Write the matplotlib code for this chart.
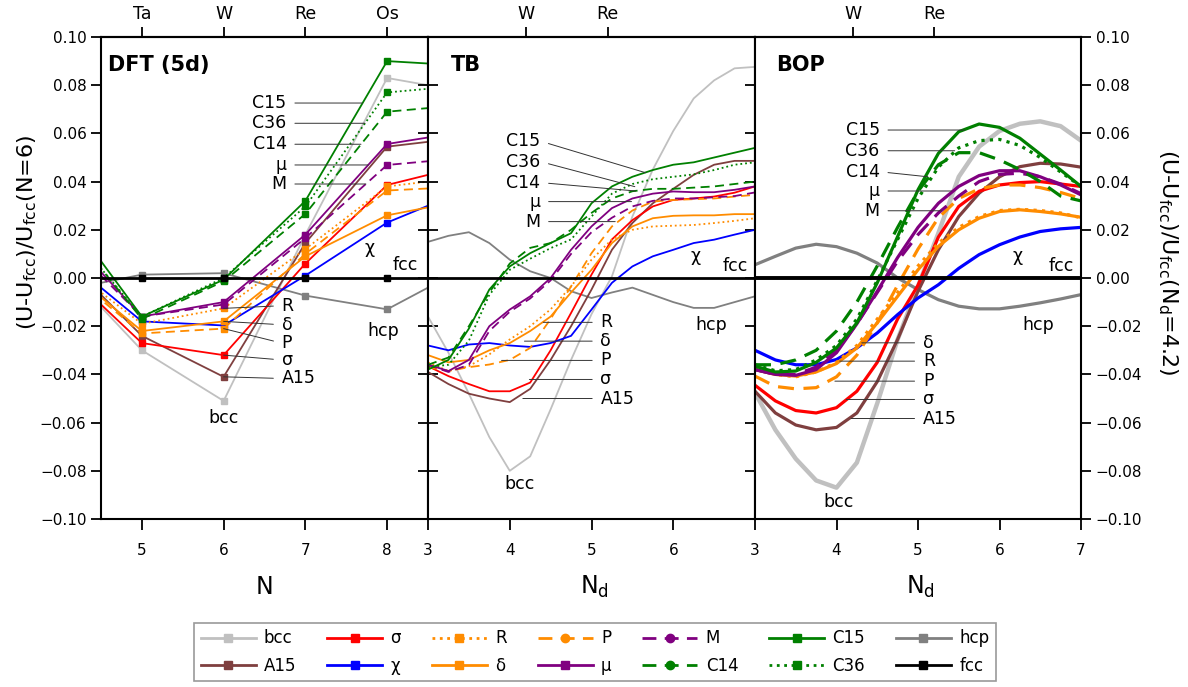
import numpy as np
import matplotlib.pyplot as plt
from matplotlib.lines import Line2D

# ---- DFT (5d): N = 4 .. 9, the end points lie just outside the plotted range
N_dft = [4, 5, 6, 7, 8, 9]
dft_bcc = [0.006, -0.030, -0.051, 0.018, 0.083, 0.077]
dft_A15 = [0.010, -0.024, -0.041, 0.0145, 0.0545, 0.0585]
dft_sigma = [0.005, -0.027, -0.032, 0.006, 0.0386, 0.047]
dft_chi = [0.010, -0.018, -0.0197, 0.001, 0.023, 0.037]
dft_R = [0.007, -0.019, -0.0126, 0.012, 0.038, 0.042]
dft_delta = [0.006, -0.022, -0.018, 0.009, 0.026, 0.0326]
dft_P = [0.005, -0.023, -0.021, 0.010, 0.0363, 0.038]
dft_mu = [0.021, -0.016, -0.010, 0.018, 0.0556, 0.061]
dft_M = [0.018, -0.016, -0.011, 0.0166, 0.0469, 0.050]
dft_C14 = [0.025, -0.017, -0.0014, 0.0266, 0.069, 0.072]
dft_C15 = [0.030, -0.016, -0.0007, 0.032, 0.090, 0.088]
dft_C36 = [0.024, -0.016, 0.0, 0.0297, 0.077, 0.080]
dft_hcp = [-0.0054, 0.0014, 0.002, -0.0073, -0.013, 0.005]
dft_fcc = [0, 0, 0, 0, 0, 0]

Nd = [3.0, 3.25, 3.5, 3.75, 4.0, 4.25, 4.5, 4.75, 5.0,
      5.25, 5.5, 5.75, 6.0, 6.25, 6.5, 6.75, 7.0]

tb_bcc = [-0.016, -0.031, -0.048, -0.066, -0.080, -0.074, -0.0545, -0.034, -0.015,
          0.0007, 0.0255, 0.045, 0.061, 0.0745, 0.082, 0.087, 0.0876]
tb_A15 = [-0.039, -0.044, -0.048, -0.050, -0.0515, -0.046, -0.034, -0.020, -0.0048,
          0.0117, 0.0228, 0.031, 0.037, 0.0428, 0.047, 0.0486, 0.0486]
tb_sigma = [-0.0366, -0.0407, -0.044, -0.047, -0.047, -0.0434, -0.030, -0.0145, 0.0014,
            0.016, 0.024, 0.0297, 0.0324, 0.033, 0.0338, 0.0354, 0.038]
tb_chi = [-0.028, -0.030, -0.0276, -0.027, -0.028, -0.0286, -0.027, -0.024, -0.0131,
          -0.002, 0.0048, 0.009, 0.0117, 0.0145, 0.0159, 0.018, 0.020]
tb_R = [-0.035, -0.0386, -0.0366, -0.0317, -0.0255, -0.020, -0.013, -0.0035, 0.0076,
        0.016, 0.020, 0.0214, 0.0217, 0.022, 0.0228, 0.0237, 0.0248]
tb_delta = [-0.032, -0.035, -0.034, -0.030, -0.027, -0.022, -0.016, -0.006, 0.0034,
            0.0145, 0.0214, 0.0248, 0.0258, 0.026, 0.026, 0.0265, 0.0265]
tb_P = [-0.037, -0.0386, -0.037, -0.0359, -0.034, -0.029, -0.017, -0.0035, 0.0103,
        0.0214, 0.028, 0.0317, 0.0324, 0.0327, 0.033, 0.0338, 0.0345]
tb_mu = [-0.0359, -0.0386, -0.034, -0.020, -0.0131, -0.0076, 0.0, 0.0117, 0.0214,
         0.029, 0.033, 0.035, 0.0359, 0.0356, 0.0356, 0.0366, 0.038]
tb_M = [-0.036, -0.039, -0.036, -0.022, -0.014, -0.0085, -0.001, 0.010, 0.019,
        0.025, 0.0297, 0.032, 0.033, 0.033, 0.0335, 0.034, 0.0355]
tb_C14 = [-0.036, -0.033, -0.020, -0.006, 0.006, 0.0125, 0.0145, 0.020, 0.027,
          0.033, 0.036, 0.037, 0.037, 0.0375, 0.038, 0.039, 0.040]
tb_C15 = [-0.038, -0.034, -0.021, -0.0048, 0.0048, 0.0103, 0.0145, 0.0186, 0.031,
          0.038, 0.042, 0.0448, 0.047, 0.048, 0.050, 0.052, 0.054]
tb_C36 = [-0.037, -0.036, -0.026, -0.007, 0.0034, 0.008, 0.0124, 0.016, 0.0255,
          0.035, 0.039, 0.041, 0.042, 0.043, 0.0448, 0.047, 0.048]
tb_hcp = [0.015, 0.0175, 0.019, 0.0145, 0.0076, 0.0028, 0.0, -0.0055, -0.0083,
          -0.006, -0.004, -0.007, -0.010, -0.0124, -0.0124, -0.010, -0.0076]

bop_bcc = [-0.0476, -0.063, -0.075, -0.084, -0.087, -0.0766, -0.052, -0.0255, -0.0034,
           0.0186, 0.042, 0.0545, 0.061, 0.064, 0.065, 0.063, 0.057]
bop_A15 = [-0.047, -0.056, -0.061, -0.063, -0.062, -0.056, -0.043, -0.0255, -0.0055,
           0.0117, 0.0255, 0.0352, 0.042, 0.0462, 0.0476, 0.0473, 0.046]
bop_sigma = [-0.0445, -0.051, -0.055, -0.056, -0.0538, -0.047, -0.035, -0.017, -0.003,
             0.017, 0.0297, 0.036, 0.0386, 0.0396, 0.040, 0.039, 0.038]
bop_chi = [-0.030, -0.034, -0.036, -0.036, -0.0338, -0.029, -0.0228, -0.0152, -0.0083,
           -0.0028, 0.004, 0.0097, 0.0138, 0.017, 0.0193, 0.0204, 0.021]
bop_R = [-0.037, -0.040, -0.041, -0.039, -0.035, -0.028, -0.017, -0.006, 0.005,
         0.0145, 0.021, 0.0255, 0.028, 0.0285, 0.028, 0.027, 0.025]
bop_delta = [-0.038, -0.040, -0.0407, -0.039, -0.0355, -0.029, -0.0186, -0.0076, 0.0034,
             0.0131, 0.020, 0.0248, 0.0276, 0.0283, 0.0276, 0.0266, 0.0252]
bop_P = [-0.0407, -0.045, -0.046, -0.0455, -0.041, -0.032, -0.0186, -0.003, 0.012,
         0.025, 0.033, 0.037, 0.0386, 0.0386, 0.0375, 0.0355, 0.033]
bop_mu = [-0.038, -0.040, -0.0404, -0.038, -0.031, -0.019, -0.0055, 0.0085, 0.021,
          0.031, 0.038, 0.0425, 0.0445, 0.0445, 0.042, 0.0386, 0.0345]
bop_M = [-0.038, -0.040, -0.040, -0.037, -0.030, -0.019, -0.006, 0.007, 0.018,
         0.027, 0.034, 0.040, 0.043, 0.0435, 0.042, 0.039, 0.035]
bop_C14 = [-0.036, -0.036, -0.034, -0.030, -0.022, -0.010, 0.005, 0.021, 0.036,
           0.047, 0.052, 0.052, 0.049, 0.045, 0.040, 0.034, 0.032]
bop_C15 = [-0.0366, -0.039, -0.0386, -0.035, -0.029, -0.0186, -0.002, 0.0172, 0.0366,
           0.0517, 0.0607, 0.0639, 0.0625, 0.058, 0.0514, 0.0448, 0.038]
bop_C36 = [-0.036, -0.0385, -0.038, -0.034, -0.028, -0.017, -0.001, 0.016, 0.033,
           0.046, 0.054, 0.057, 0.0575, 0.055, 0.050, 0.044, 0.038]
bop_hcp = [0.0055, 0.009, 0.0124, 0.014, 0.013, 0.0103, 0.0062, 0.0, -0.0048,
           -0.009, -0.0117, -0.0128, -0.0128, -0.0117, -0.0103, -0.0087, -0.0069]

phases = ['bcc', 'A15', 'σ', 'χ', 'R', 'δ', 'P', 'μ', 'M', 'C14', 'C15', 'C36', 'hcp', 'fcc']
dft = dict(zip(phases, [dft_bcc, dft_A15, dft_sigma, dft_chi, dft_R, dft_delta, dft_P,
                        dft_mu, dft_M, dft_C14, dft_C15, dft_C36, dft_hcp, dft_fcc]))
tb = dict(zip(phases[:-1], [tb_bcc, tb_A15, tb_sigma, tb_chi, tb_R, tb_delta, tb_P,
                            tb_mu, tb_M, tb_C14, tb_C15, tb_C36, tb_hcp]))
bop = dict(zip(phases[:-1], [bop_bcc, bop_A15, bop_sigma, bop_chi, bop_R, bop_delta, bop_P,
                             bop_mu, bop_M, bop_C14, bop_C15, bop_C36, bop_hcp]))

orange, purple, green = '#FF8C00', '#800080', '#008000'
colors = {'bcc': '#C0C0C0', 'A15': '#7F3F3F', 'σ': '#FF0000', 'χ': '#0000FF',
          'R': orange, 'δ': orange, 'P': orange, 'μ': purple, 'M': purple,
          'C14': green, 'C15': green, 'C36': green, 'hcp': '#808080', 'fcc': 'black'}
dash = (0, (5, 3))
styles = {'R': ':', 'P': dash, 'M': dash, 'C14': dash, 'C36': ':'}
leg_marker = {'P': 'o', 'M': 'o', 'C14': 'o'}

# draw order: bcc and hcp underneath, fcc on top
draw_order = ['bcc', 'hcp', 'A15', 'σ', 'χ', 'R', 'δ', 'P', 'μ', 'M', 'C14', 'C36', 'C15']

fig = plt.figure(figsize=(11.88, 6.87), dpi=100)
W, H = 1188, 687
bot, top = 519, 37
ax1 = fig.add_axes([101 / W, 1 - bot / H, 327 / W, (bot - top) / H])
ax2 = fig.add_axes([428 / W, 1 - bot / H, 327 / W, (bot - top) / H])
ax3 = fig.add_axes([755 / W, 1 - bot / H, 326 / W, (bot - top) / H])

# DFT panel: lines with square markers
for p in draw_order:
    ax1.plot(N_dft, dft[p], color=colors[p], ls=styles.get(p, '-'), lw=1.3,
             marker='s', ms=4.5, clip_on=True)
ax1.plot(N_dft, dft['fcc'], color='black', lw=2, marker='s', ms=4.5, zorder=5)

for p in draw_order:
    ax2.plot(Nd, tb[p], color=colors[p], ls=styles.get(p, '-'), lw=1.3)
ax2.axhline(0, color='black', lw=2, zorder=5)

for p in draw_order:
    ax3.plot(Nd, bop[p], color=colors[p], ls=styles.get(p, '-'),
             lw=3.2 if p == 'bcc' else 2.3)
ax3.axhline(0, color='black', lw=2.8, zorder=5)

yticks = [-0.10, -0.08, -0.06, -0.04, -0.02, 0.00, 0.02, 0.04, 0.06, 0.08, 0.10]
for ax in (ax1, ax2, ax3):
    ax.set_ylim(-0.10, 0.10)
    ax.set_yticks(yticks)
    ax.yaxis.set_major_formatter('{x:.2f}')
    for s in ax.spines.values():
        s.set_linewidth(1.5)
    ax.tick_params(axis='x', direction='out', length=8, width=1.3, labelsize=11, pad=9)

ax1.set_xlim(4.5, 8.5)
ax1.set_xticks([5, 6, 7, 8])
ax2.set_xlim(3, 7)
ax2.set_xticks([3, 4, 5, 6])
ax3.set_xlim(3, 7)
ax3.set_xticks([3, 4, 5, 6, 7])

ax1.tick_params(axis='y', left=True, right=False, labelleft=True, direction='out',
                length=7, width=1.3, labelsize=11)
ax2.tick_params(axis='y', left=True, right=True, labelleft=False, direction='inout',
                length=14, width=1.3)
ax3.tick_params(axis='y', left=False, right=True, labelleft=False, labelright=True,
                direction='out', length=7, width=1.3, labelsize=11)

# element names on top
for ax, ticks, labels in [(ax1, [5, 6, 7, 8], ['Ta', 'W', 'Re', 'Os']),
                          (ax2, [4.2, 5.2], ['W', 'Re']),
                          (ax3, [4.2, 5.2], ['W', 'Re'])]:
    sec = ax.secondary_xaxis('top')
    sec.set_xticks(ticks, labels)
    sec.tick_params(direction='out', length=7, width=1.3, labelsize=12.5, pad=3)
    sec.spines['top'].set_linewidth(1.5)

# panel titles
for ax, title, x in [(ax1, 'DFT (5d)', 0.022), (ax2, 'TB', 0.07), (ax3, 'BOP', 0.064)]:
    ax.text(x, 0.942, title, transform=ax.transAxes, fontsize=15, fontweight='bold',
            va='center', ha='left')

lab_fs = 12.5
lead = dict(arrowstyle='-', color='#333333', lw=0.7, shrinkA=4, shrinkB=0)


def upper_labels(ax, xt, items):
    for name, yt, xe, ye in items:
        ax.annotate(name, xy=(xe, ye), xytext=(xt, yt), ha='right', va='center',
                    fontsize=lab_fs, arrowprops=dict(lead, relpos=(1, 0.5)))


def lower_labels(ax, xt, items):
    for name, yt, xe, ye in items:
        ax.annotate(name, xy=(xe, ye), xytext=(xt, yt), ha='left', va='center',
                    fontsize=lab_fs, arrowprops=dict(lead, relpos=(0, 0.5)))


upper_labels(ax1, 6.77, [('C15', 0.0726, 7.70, 0.0726), ('C36', 0.0642, 7.73, 0.0642),
                         ('C14', 0.0555, 7.68, 0.0555), ('μ', 0.0469, 7.77, 0.0469),
                         ('M', 0.0390, 7.74, 0.0390)])
lower_labels(ax1, 6.71, [('R', -0.0115, 6.0, -0.0126), ('δ', -0.0194, 6.0, -0.018),
                         ('P', -0.027, 6.0, -0.021), ('σ', -0.034, 6.0, -0.032),
                         ('A15', -0.0417, 6.0, -0.041)])
upper_labels(ax2, 4.374, [('C15', 0.0568, 5.66, 0.0437), ('C36', 0.0483, 5.53, 0.0379),
                          ('C14', 0.0396, 5.54, 0.0361), ('μ', 0.0317, 5.49, 0.0317),
                          ('M', 0.0234, 5.29, 0.0234)])
lower_labels(ax2, 5.11, [('R', -0.0184, 4.41, -0.0184), ('δ', -0.0262, 4.18, -0.0262),
                         ('P', -0.0342, 3.90, -0.0342), ('σ', -0.0421, 4.24, -0.0421),
                         ('A15', -0.050, 4.16, -0.050)])
upper_labels(ax3, 4.53, [('C15', 0.0614, 5.57, 0.0614), ('C36', 0.0528, 5.45, 0.0528),
                         ('C14', 0.0441, 5.12, 0.042), ('μ', 0.0361, 5.41, 0.0361),
                         ('M', 0.0279, 5.29, 0.0279)])
lower_labels(ax3, 5.06, [('δ', -0.0269, 4.31, -0.0269), ('R', -0.0345, 4.04, -0.0345),
                         ('P', -0.0428, 3.98, -0.0428), ('σ', -0.0504, 4.12, -0.0504),
                         ('A15', -0.0583, 4.18, -0.0583)])

for ax, pts in [(ax1, [('bcc', 6.0, -0.058), ('χ', 7.79, 0.0125), ('fcc', 8.22, 0.0055),
                       ('hcp', 7.95, -0.022)]),
                (ax2, [('bcc', 4.12, -0.0855), ('χ', 6.27, 0.009), ('fcc', 6.76, 0.0048),
                       ('hcp', 6.46, -0.0193)]),
                (ax3, [('bcc', 4.02, -0.093), ('χ', 6.22, 0.009), ('fcc', 6.76, 0.0048),
                       ('hcp', 6.47, -0.0193)])]:
    for name, x, y in pts:
        ax.text(x, y, name, ha='center', va='center', fontsize=lab_fs)

# axis titles
fig.text(265 / W, 1 - 594 / H, 'N', ha='center', va='baseline', fontsize=17)
fig.text(594 / W, 1 - 594 / H, 'N$_\\mathregular{d}$', ha='center', va='baseline', fontsize=17)
fig.text(920 / W, 1 - 594 / H, 'N$_\\mathregular{d}$', ha='center', va='baseline', fontsize=17)
fig.text(27 / W, 1 - 232 / H, '(U-U$_\\mathregular{fcc}$)/U$_\\mathregular{fcc}$(N=6)',
         rotation=90, ha='center', va='center', fontsize=16)
fig.text(1168 / W, 1 - 262 / H,
         '(U-U$_\\mathregular{fcc}$)/U$_\\mathregular{fcc}$(N$_\\mathregular{d}$=4.2)',
         rotation=270, ha='center', va='center', fontsize=16)

# legend (two rows, filled column by column)
handles = []
for p in phases:
    handles.append(Line2D([], [], color=colors[p], ls=styles.get(p, '-'), lw=2,
                          marker=leg_marker.get(p, 's'), ms=6))
leg = fig.legend(handles, phases, ncol=7, loc='center', bbox_to_anchor=(595 / W, 1 - 652 / H),
                 fontsize=12, handlelength=3.3, handletextpad=0.5, columnspacing=1.85,
                 labelspacing=0.55, borderpad=0.4, fancybox=False, edgecolor='#808080')
leg.get_frame().set_linewidth(1.2)

fig.savefig('out.png', dpi=100)
